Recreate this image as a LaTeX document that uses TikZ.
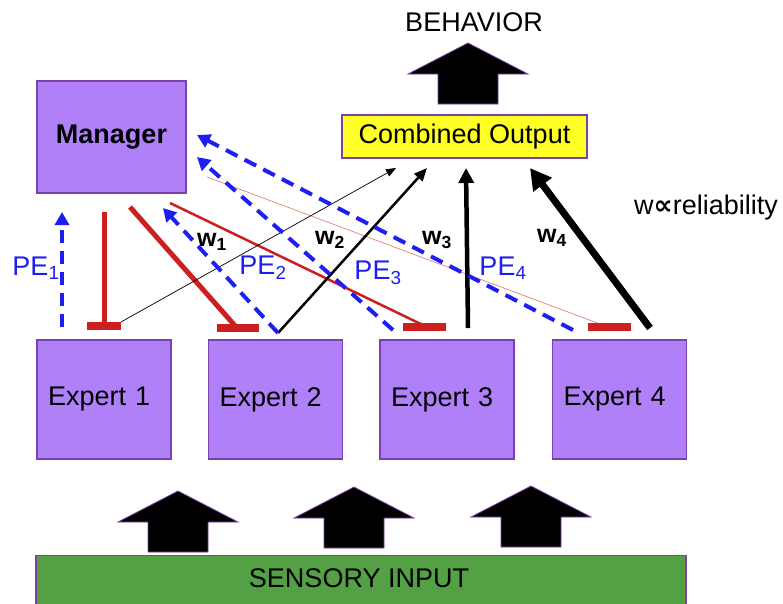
\documentclass[tikz,border=0pt]{standalone}
\usepackage{fontspec}
\setmainfont{Liberation Sans}
\newfontfamily\symfont{DejaVu Sans}
\usetikzlibrary{arrows.meta}
\definecolor{boxpurple}{RGB}{176,128,248}
\definecolor{boxedge}{RGB}{125,65,170}
\definecolor{outyellow}{RGB}{255,255,40}
\definecolor{inputgreen}{RGB}{84,160,68}
\definecolor{pered}{RGB}{205,30,32}
\definecolor{pepink}{RGB}{222,130,120}
\definecolor{peblue}{RGB}{30,30,240}
\newcommand{\bigfont}{\fontsize{27}{32}\selectfont}

\tikzset{
  blockarrow/.pic={
    \draw[fill=black,draw=boxedge,line width=0.8pt] (0,0) -- (60,31) -- (30,31) -- (30,61)
      -- (-30,61) -- (-30,31) -- (-60,31) -- cycle;
  }
}

\begin{document}
\begin{tikzpicture}[x=1pt,y=-1pt,
  expert/.style={draw=boxedge,line width=1.2pt,fill=boxpurple,minimum width=134pt,
    minimum height=119pt,inner sep=0pt,text width=112pt,align=left,font=\bigfont},
  pedash/.style={peblue,line width=4pt,dash pattern=on 13pt off 8pt,
    -{Triangle[length=13pt,width=14pt]}},
  inhib/.style={pered,line width=5pt},
  tbar/.style={pered,line width=8pt},
  pelabel/.style={peblue,font=\bigfont},
  wlabel/.style={font=\bfseries\fontsize{25}{30}\selectfont}]
  \useasboundingbox (0,0) rectangle (783,603);

  % boxes
  \node[expert,minimum width=149pt,minimum height=112pt,text width=,align=center,
    font=\bfseries\bigfont] (manager) at (111.5,137) {Manager};
  \node[draw=boxedge,line width=1.2pt,fill=outyellow,minimum width=245pt,minimum height=43pt,
    inner sep=0pt,font=\bigfont] (comb) at (464.5,136.5) {Combined Output};
  \node[font=\bigfont] (behavior) at (474,22) {BEHAVIOR};
  \node[expert] (e1) at (104,399.5) {Expert 1};
  \node[expert] (e2) at (275.5,399.5) {Expert 2};
  \node[expert] (e3) at (447,399.5) {Expert 3};
  \node[expert] (e4) at (619.5,399.5) {Expert 4};
  \node[draw=boxedge,line width=1.2pt,fill=inputgreen,minimum width=650pt,minimum height=70pt,
    anchor=north] (input) at (361,555) {};
  \node[font=\bigfont] (inputtxt) at (359,578) {SENSORY INPUT};

  % big arrows
  \pic at (468,43) {blockarrow};
  \foreach \ax/\ay in {178/491, 354/487, 531/486}
    \pic at (\ax,\ay) {blockarrow};

  % end points
  \coordinate (pe1s) at (62,327);   \coordinate (pe1t) at (62,212);
  \coordinate (x2) at (278,333);    \coordinate (pe2t) at (163,208);
  \coordinate (pe3s) at (393,330);  \coordinate (pe3t) at (197,157);
  \coordinate (pe4s) at (573,330);  \coordinate (pe4t) at (197,135);
  \coordinate (i1) at (104,326);
  \coordinate (i2) at (237,328);
  \coordinate (i3) at (427,327);
  \coordinate (i4) at (608,327);
  \coordinate (x1) at (121,322);
  \coordinate (x3) at (468,328);
  \coordinate (x4) at (650,328);

  % inhibition from the manager
  \draw[inhib] (104,212) -- (i1);
  \draw[inhib] (130,207) -- (i2);
  \draw[pered,line width=2.5pt] (170,203) -- (i3);
  \draw[pepink,line width=0.7pt] (207,177) -- (i4);
  \draw[tbar] (87,326) -- (i1) -- (121,326);
  \draw[tbar] (217,328) -- (i2) -- (259,328);
  \draw[tbar] (403,327) -- (i3) -- (446,327);
  \draw[tbar] (588,327) -- (i4) -- (631,327);

  % expert outputs
  \draw[line width=0.7pt,-{Triangle[length=10pt,width=8pt]}] (x1) -- (396,168);
  \draw[line width=2.5pt,-{Triangle[length=13pt,width=11pt]}] (x2) -- (427,168);
  \draw[line width=4.5pt,-{Triangle[length=15pt,width=15pt]}] (x3) -- (466,168);
  \draw[line width=7pt,-{Triangle[length=21pt,width=22pt]}] (x4) -- (530,168);

  % prediction errors
  \draw[pedash] (pe1s) -- (pe1t);
  \draw[pedash] (x2) -- (pe2t);
  \draw[pedash] (pe3s) -- (pe3t);
  \draw[pedash] (pe4s) -- (pe4t);

  % labels
  \node[pelabel] (pe1lab) at (36,268) {PE\textsubscript{1}};
  \node[pelabel] (pe2lab) at (263,268) {PE\textsubscript{2}};
  \node[pelabel] (pe3lab) at (378,273) {PE\textsubscript{3}};
  \node[pelabel] (pe4lab) at (503,268) {PE\textsubscript{4}};
  \node[wlabel] (w1) at (212,242) {w\textsubscript{1}};
  \node[wlabel] (w2) at (330,240) {w\textsubscript{2}};
  \node[wlabel] (w3) at (437,240) {w\textsubscript{3}};
  \node[wlabel] (w4) at (552,238) {w\textsubscript{4}};
  \node[font=\bigfont] (rel) at (706,208) {w{\symfont\bfseries ∝}reliability};
\end{tikzpicture}
\end{document}
